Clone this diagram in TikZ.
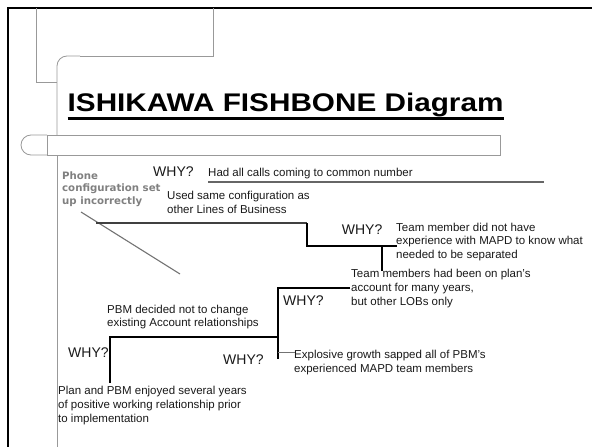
\documentclass[tikz,border=0pt]{standalone}
\usepackage{fontspec}
\setmainfont{Liberation Sans}
\newfontfamily\labelfont{DejaVu Sans}
\begin{document}
\begin{tikzpicture}[x=1pt,y=-1pt,
  frame/.style={line width=2.6pt, draw=black},
  deco/.style={line width=0.8pt, draw=black!40},
  bone/.style={line width=1.1pt, draw=black},
  twig/.style={line width=1pt, draw=black!55},
  why/.style={font=\fontsize{14}{16}\selectfont, inner sep=0pt, anchor=base west, text=black!90},
  note/.style={font=\fontsize{11.5}{14}\selectfont, inner sep=0pt, anchor=north west, align=left, text=black!90},
  cause/.style={font=\labelfont\bfseries\fontsize{10.2}{12.2}\selectfont, inner sep=0pt, anchor=north west, align=left, text=black!50},
]
\useasboundingbox (0,0) rectangle (592,447);

% slide frame
\draw[frame] (8,447) -- (8,8) -- (592,8);

% slide decoration
\draw[deco] (36,8) -- (36,82) -- (57,82);
\draw[deco] (213,8) -- (213,56) -- (80,56);
\draw[deco, rounded corners=10pt] (80,56) -- (57,56) -- (57,135);
\draw[deco] (47,135) -- (500,135) -- (500,155) -- (47,155) -- cycle;
\draw[deco, rounded corners=10pt] (47,135) -- (21,135) -- (21,155) -- (47,155);
\draw[deco] (57,155) -- (57,447);

% title
\node[anchor=base west, inner sep=0pt, font=\bfseries\fontsize{25.5}{30}\selectfont] (title) at (67.5,111)
  {\scalebox{1.165}[1]{ISHIKAWA FISHBONE Diagram}};
\draw[line width=3.5pt] ([yshift=-7.5pt]title.base west) -- ([yshift=-7.5pt]title.base east);

% texts
\node[cause] (phone) at (62,171.7) {Phone\\configuration set\\up incorrectly};
\node[why] (why1) at (153,176.5) {WHY?};
\node[font=\fontsize{11.5}{14}\selectfont, inner sep=0pt, anchor=base west, text=black!90] (calls) at (208,176) {Had all calls coming to common number};
\node[note] (same) at (167,190.7) {Used same configuration as\\other Lines of Business};
\node[why] (why2) at (341.7,234.3) {WHY?};
\node[note, font=\fontsize{11.5}{13.5}\selectfont] (mapd) at (396,222.7) {Team member did not have\\experience with MAPD to know what\\needed to be separated};
\node[note] (lobs) at (351,269.4) {Team members had been on plan's\\account for many years,\\but other LOBs only};
\node[why] (why3) at (283,305) {WHY?};
\node[note, font=\fontsize{11.5}{13.4}\selectfont] (pbm) at (107,305) {PBM decided not to change\\existing Account relationships};
\node[why] (why4) at (68,357.7) {WHY?};
\node[why] (why5) at (223,364) {WHY?};
\node[note] (growth) at (294,350.4) {Explosive growth sapped all of PBM's\\experienced MAPD team members};
\node[note, font=\fontsize{11.5}{14.3}\selectfont] (plan) at (58,385.7) {Plan and PBM enjoyed several years\\of positive working relationship prior\\to implementation};

% junction points of the bones
\coordinate (c1a) at (208,182);
\coordinate (c1b) at (544,182);
\coordinate (s1) at (81,212);
\coordinate (s2) at (180,274);
\coordinate (c2a) at (96,223);
\coordinate (c2b) at (307,223);
\coordinate (c2c) at (307,246);
\coordinate (c2d) at (397,246);
\coordinate (c3a) at (382,246);
\coordinate (c3b) at (382,271);
\coordinate (c4a) at (350,288);
\coordinate (c4b) at (278,288);
\coordinate (c4c) at (278,359);
\coordinate (c5a) at (278,337);
\coordinate (c5b) at (110,337);
\coordinate (c5c) at (110,383);
\coordinate (c6a) at (278,352);
\coordinate (c6b) at (295,352);

% bones
\draw[line width=1.1pt, draw=black!60] (c1a) -- (c1b);
\draw[line width=1.1pt, draw=black!55] (s1) -- (s2);
\draw[line width=1.1pt, draw=black!75] (c2a) -- (c2b);
\draw[bone] (c2b) -- (c2c) -- (c2d);
\draw[bone] (c3a) -- (c3b);
\draw[bone] (c4a) -- (c4b) -- (c4c);
\draw[bone] (c5a) -- (c5b) -- (c5c);
\draw[twig] (c6a) -- (c6b);
\end{tikzpicture}
\end{document}
